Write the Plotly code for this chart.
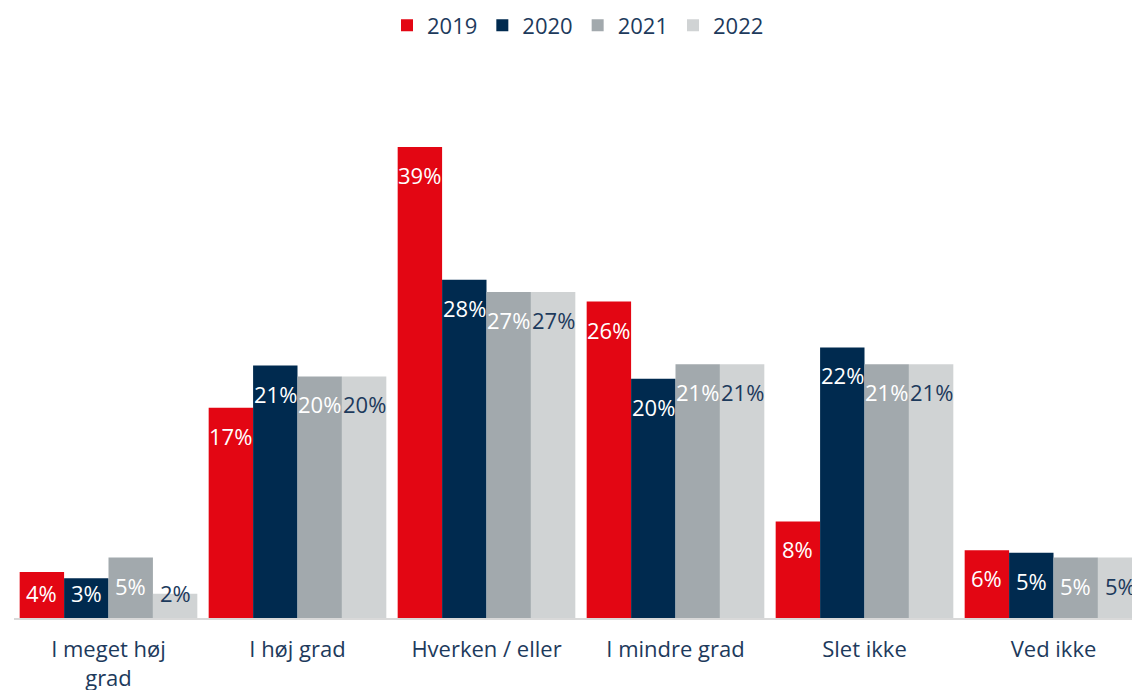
import plotly.graph_objects as go

categories = ["I meget høj<br>grad", "I høj grad", "Hverken / eller", "I mindre grad", "Slet ikke", "Ved ikke"]
years = ["2019", "2020", "2021", "2022"]

v2019 = [3.8, 17.4, 39.0, 26.2, 8.0, 5.6]
v2020 = [3.3, 20.9, 28.0, 19.8, 22.4, 5.4]
v2021 = [5.0, 20.0, 27.0, 21.0, 21.0, 5.0]
v2022 = [2.0, 20.0, 27.0, 21.0, 21.0, 5.0]

series = [v2019, v2020, v2021, v2022]
colors = ["#E30613", "#002A4F", "#A2A9AD", "#D0D3D4"]
label_colors = ["white", "white", "white", "#1d3a5c"]

FONT = "Open Sans"
TEXT = "#1d3a5c"

fig = go.Figure()
for name, vals, col in zip(years, series, colors):
    fig.add_trace(go.Bar(x=categories, y=vals, name=name, marker_color=col,
                         marker_line_width=0))

# data labels near the top of each bar, clamped for short bars
bar_px = 44.5
annotations = []
for i, (vals, lc) in enumerate(zip(series, label_colors)):
    shift = (i - 1.5) * bar_px
    for cat, v in zip(categories, vals):
        annotations.append(dict(
            x=cat, y=max(v, 4.4), xref="x", yref="y",
            text=f"{round(v)}%", showarrow=False,
            xshift=shift, yshift=-28, yanchor="middle",
            font=dict(family=FONT, size=22, color=lc),
        ))

fig.update_layout(
    width=1140, height=690,
    margin=dict(l=6, r=0, t=52, b=80, autoexpand=False),
    barmode="group", bargap=0.06, bargroupgap=0,
    plot_bgcolor="white", paper_bgcolor="white",
    font=dict(family=FONT, size=22, color=TEXT),
    legend=dict(orientation="h", x=0.5, xanchor="center", xref="container",
                y=1.062, yanchor="middle", yref="paper",
                font=dict(size=22, color=TEXT), traceorder="normal"),
    annotations=annotations,
)
fig.update_xaxes(showline=True, linecolor="#d9d9d9", linewidth=2, ticks="",
                 tickfont=dict(size=22, color=TEXT), ticklabelstandoff=11,
                 automargin=False)
fig.update_yaxes(range=[0, 46.2], visible=False, showgrid=False)

fig.write_html("out.html")
